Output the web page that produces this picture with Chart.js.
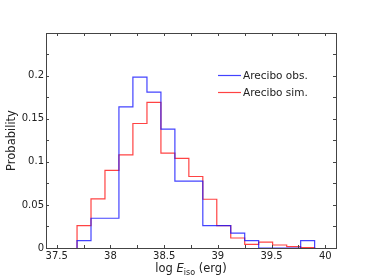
<!DOCTYPE html>
<html><head><meta charset="utf-8">
<script src="https://cdn.jsdelivr.net/npm/chart.js@4.4.1/dist/chart.umd.min.js"></script>
<style>html,body{margin:0;padding:0;background:#fff;} #wrap{position:relative;width:374px;height:280px;}</style>
</head><body><div id="wrap"><canvas id="c" width="374" height="280"></canvas></div>
<script>
const binEdges = [37.689, 37.819, 37.949, 38.079, 38.209, 38.340, 38.470, 38.600, 38.730,
                  38.860, 38.990, 39.120, 39.250, 39.380, 39.510, 39.641, 39.771, 39.901];
const obsProb = [0.0086, 0.0345, 0.0345, 0.1638, 0.1983, 0.1810, 0.1379, 0.0776, 0.0776,
                 0.0259, 0.0259, 0.0172, 0.0086, 0, 0, 0, 0.0086];
const simProb = [0.026, 0.057, 0.090, 0.108, 0.1445, 0.169, 0.110, 0.104, 0.083,
                 0.0566, 0.026, 0.0116, 0.0043, 0.0069, 0.0035, 0.0015, 0.0005];
const seriesNames = ['Arecibo obs.', 'Arecibo sim.'];
const xTickLabels = [37.5, 38, 38.5, 39, 39.5, 40];
const yTickLabels = [0, 0.05, 0.1, 0.15, 0.2];
const xTickMarks = [37.5, 37.75, 38, 38.25, 38.5, 38.75, 39, 39.25, 39.5, 39.75, 40];
const yTickMarks = [0.025, 0.05, 0.075, 0.1, 0.125, 0.15, 0.175, 0.2, 0.225];

const FONT = 'DejaVu Sans';
const AXIS = '#444444';
const TEXT = '#222222';
const colors = ['rgba(20,20,255,0.8)', 'rgba(255,20,20,0.8)'];

function stepPoints(edges, vals) {
  const pts = [{x: edges[0], y: 0}];
  for (let i = 0; i < vals.length; i++) pts.push({x: edges[i], y: vals[i]});
  pts.push({x: edges[edges.length - 1], y: 0});
  return pts;
}

const framePlugin = {
  id: 'frame',
  afterDraw(chart) {
    const ctx = chart.ctx, a = chart.chartArea;
    const xs = chart.scales.x, ys = chart.scales.y;
    ctx.save();
    ctx.strokeStyle = AXIS;
    ctx.lineWidth = 1;
    ctx.strokeRect(a.left + 0.5, a.top + 0.5, a.right - a.left, a.bottom - a.top);
    const tl = 3;
    ctx.beginPath();
    xTickMarks.forEach(v => {
      const p = Math.round(xs.getPixelForValue(v)) + 0.5;
      ctx.moveTo(p, a.bottom); ctx.lineTo(p, a.bottom - tl);
      ctx.moveTo(p, a.top); ctx.lineTo(p, a.top + tl);
    });
    yTickMarks.forEach(v => {
      const p = Math.round(ys.getPixelForValue(v)) + 0.5;
      ctx.moveTo(a.left, p); ctx.lineTo(a.left + tl, p);
      ctx.moveTo(a.right, p); ctx.lineTo(a.right - tl, p);
    });
    ctx.stroke();

    // y title
    ctx.fillStyle = TEXT;
    ctx.font = '11.5px "' + FONT + '"';
    ctx.save();
    ctx.translate(12, (a.top + a.bottom) / 2);
    ctx.rotate(-Math.PI / 2);
    ctx.textAlign = 'center';
    ctx.textBaseline = 'middle';
    ctx.fillText('Probability', 0, 0);
    ctx.restore();

    // x title: log E_iso (erg)
    const parts = [
      {t: 'log ', f: '11.5px "' + FONT + '"', dy: 0},
      {t: 'E', f: 'italic 11.5px "' + FONT + '"', dy: 0},
      {t: 'iso', f: '8px "' + FONT + '"', dy: 3},
      {t: ' (erg)', f: '11.5px "' + FONT + '"', dy: 0}
    ];
    let total = 0;
    parts.forEach(p => { ctx.font = p.f; p.w = ctx.measureText(p.t).width; total += p.w; });
    let x = (a.left + a.right) / 2 - total / 2;
    const base = 272;
    ctx.textAlign = 'left';
    ctx.textBaseline = 'alphabetic';
    parts.forEach(p => { ctx.font = p.f; ctx.fillText(p.t, x, base + p.dy); x += p.w; });

    // legend
    ctx.font = '10.5px "' + FONT + '"';
    ctx.textBaseline = 'middle';
    const rows = [75, 92];
    seriesNames.forEach((n, i) => {
      ctx.strokeStyle = colors[i];
      ctx.lineWidth = 1.2;
      ctx.beginPath();
      ctx.moveTo(218, rows[i] + 0.5); ctx.lineTo(241, rows[i] + 0.5);
      ctx.stroke();
      ctx.fillStyle = TEXT;
      ctx.fillText(n, 243, rows[i] + 1);
    });
    ctx.restore();
  }
};

new Chart(document.getElementById('c'), {
  type: 'line',
  data: {
    datasets: [
      {label: seriesNames[0], data: stepPoints(binEdges, obsProb), borderColor: colors[0], borderWidth: 1.2, stepped: true, fill: false, pointRadius: 0},
      {label: seriesNames[1], data: stepPoints(binEdges, simProb), borderColor: colors[1], borderWidth: 1.2, stepped: true, fill: false, pointRadius: 0}
    ]
  },
  options: {
    responsive: false,
    animation: false,
    devicePixelRatio: 1,
    layout: {padding: {left: 0, right: 38, top: 33, bottom: 0}},
    plugins: {legend: {display: false}, tooltip: {enabled: false}},
    scales: {
      x: {
        type: 'linear', min: 37.4, max: 40.1,
        grid: {display: false, drawTicks: false},
        border: {display: false},
        afterBuildTicks: s => { s.ticks = xTickLabels.map(v => ({value: v})); },
        afterFit: s => { s.height = 32; },
        ticks: {padding: 2, maxRotation: 0, autoSkip: false, color: TEXT,
                font: {family: FONT, size: 10}, callback: v => String(v)}
      },
      y: {
        type: 'linear', min: 0, max: 0.2495,
        grid: {display: false, drawTicks: false},
        border: {display: false},
        afterBuildTicks: s => { s.ticks = yTickLabels.map(v => ({value: v})); },
        afterFit: s => { s.width = 46; },
        ticks: {padding: 2, autoSkip: false, color: TEXT,
                font: {family: FONT, size: 10}, callback: v => String(v)}
      }
    }
  },
  plugins: [framePlugin]
});
</script>
</body></html>
